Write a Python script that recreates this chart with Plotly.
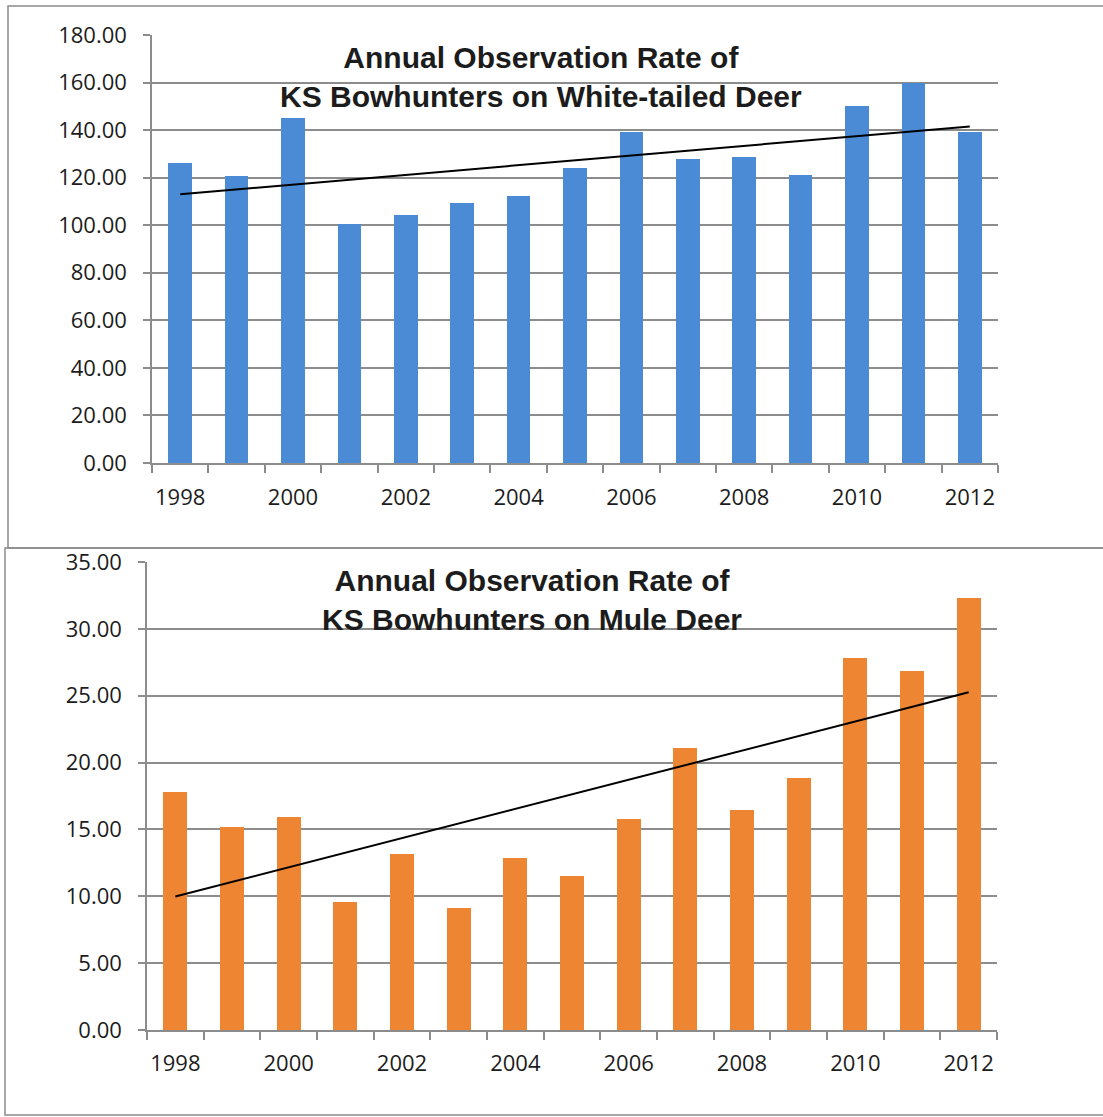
import numpy as np
import plotly.graph_objects as go

# Survey years (one bar per year)
years = [1998, 1999, 2000, 2001, 2002, 2003, 2004, 2005,
         2006, 2007, 2008, 2009, 2010, 2011, 2012]
year_labels = [1998, 2000, 2002, 2004, 2006, 2008, 2010, 2012]

# Annual observation rates
whitetail_rate = [126.3, 120.7, 145.0, 100.5, 104.3, 109.5, 112.3, 124.2,
                  139.4, 128.0, 128.8, 121.1, 150.3, 159.7, 139.0]
mule_rate = [17.78, 15.20, 15.90, 9.60, 13.15, 9.12, 12.88, 11.50,
             15.75, 21.10, 16.45, 18.88, 27.85, 26.87, 32.33]

wt_ticks = [0, 20, 40, 60, 80, 100, 120, 140, 160, 180]
md_ticks = [0, 5, 10, 15, 20, 25, 30, 35]

W, H = 1103, 1117
BLUE = "#4b8bd5"
ORANGE = "#ee8533"
GRID = "#8c8c8c"
TEXT = "#1c1c1c"
TICK_FONT = dict(family="Open Sans", size=22, color=TEXT)


def px_x(p):
    return p / W


def px_y(p):
    return 1 - p / H


def linear_trend(x, y):
    slope, intercept = np.polyfit(x, y, 1)
    return [slope * xi + intercept for xi in (x[0], x[-1])]


fig = go.Figure()

fig.add_trace(go.Bar(x=years, y=whitetail_rate, width=0.42,
                     marker=dict(color=BLUE, line=dict(width=0)),
                     xaxis="x", yaxis="y", showlegend=False))
fig.add_trace(go.Scatter(x=[years[0], years[-1]],
                         y=linear_trend(years, whitetail_rate),
                         mode="lines", line=dict(color="black", width=2),
                         xaxis="x", yaxis="y", showlegend=False))

fig.add_trace(go.Bar(x=years, y=mule_rate, width=0.42,
                     marker=dict(color=ORANGE, line=dict(width=0)),
                     xaxis="x2", yaxis="y2", showlegend=False))
fig.add_trace(go.Scatter(x=[years[0], years[-1]],
                         y=linear_trend(years, mule_rate),
                         mode="lines", line=dict(color="black", width=2),
                         xaxis="x2", yaxis="y2", showlegend=False))


def x_axis(domain, anchor, standoff):
    return dict(
        domain=domain, anchor=anchor, range=[1997.5, 2012.5],
        automargin=False,
        tickmode="array", tickvals=year_labels,
        ticks="", ticklen=0, ticklabelstandoff=standoff,
        tickfont=TICK_FONT, showgrid=False, zeroline=False,
        showline=True, linecolor=GRID, linewidth=1.5,
        minor=dict(tickmode="array",
                   tickvals=[y - 0.5 for y in years] + [years[-1] + 0.5],
                   ticks="outside", ticklen=8, tickcolor=GRID,
                   tickwidth=1.5, showgrid=False),
        fixedrange=True,
    )


def y_axis(domain, anchor, rng, ticks):
    return dict(
        domain=domain, anchor=anchor, range=rng,
        automargin=False,
        tickmode="array", tickvals=ticks, tickformat=".2f",
        ticks="outside", ticklen=7, tickcolor=GRID, tickwidth=1.5,
        ticklabelstandoff=12, tickfont=TICK_FONT,
        showgrid=True, gridcolor=GRID, gridwidth=1.5,
        zeroline=False, showline=True, linecolor=GRID, linewidth=1.5,
        fixedrange=True,
    )


fig.update_layout(
    width=W, height=H, autosize=False,
    margin=dict(l=0, r=0, t=0, b=0, pad=0, autoexpand=False),
    paper_bgcolor="white", plot_bgcolor="white",
    bargap=0,
    xaxis=x_axis([px_x(152), px_x(998)], "y", 14),
    yaxis=y_axis([px_y(463), px_y(35)], "x", [0, 180], wt_ticks),
    xaxis2=x_axis([px_x(147), px_x(997)], "y2", 13),
    yaxis2=y_axis([px_y(1030), px_y(562)], "x2", [0, 35], md_ticks),
    annotations=[
        dict(text="<b>Annual Observation Rate of<br>"
                  "KS Bowhunters on White-tailed Deer</b>",
             xref="paper", yref="paper", x=px_x(541), y=px_y(77),
             xanchor="center", yanchor="middle", showarrow=False,
             font=dict(family="Liberation Sans", size=30, color=TEXT)),
        dict(text="<b>Annual Observation Rate of<br>"
                  "KS Bowhunters on Mule Deer</b>",
             xref="paper", yref="paper", x=px_x(532), y=px_y(600),
             xanchor="center", yanchor="middle", showarrow=False,
             font=dict(family="Liberation Sans", size=30, color=TEXT)),
    ],
    shapes=[
        # chart frames
        dict(type="rect", xref="paper", yref="paper",
             x0=px_x(8), x1=1.02, y0=px_y(548), y1=px_y(6),
             line=dict(color="#8a8a8a", width=1.5), layer="below"),
        dict(type="rect", xref="paper", yref="paper",
             x0=px_x(5), x1=1.02, y0=px_y(1115), y1=px_y(548),
             line=dict(color="#8a8a8a", width=1.5), layer="below"),
    ],
)

fig.write_html("out.html", config={"responsive": False, "displayModeBar": False})
